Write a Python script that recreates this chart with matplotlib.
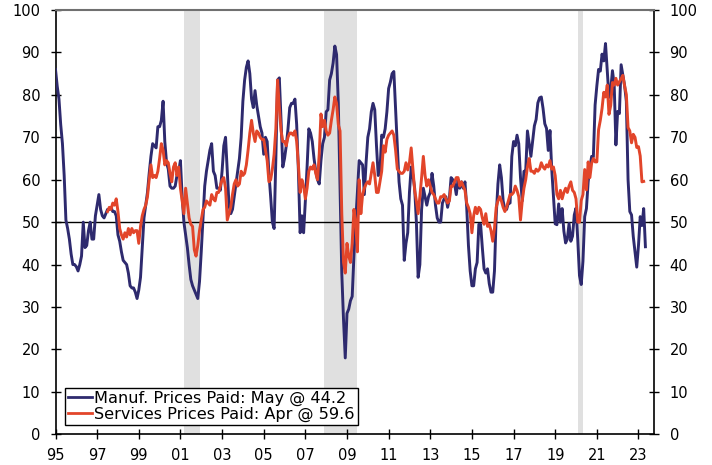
import numpy as np
import pandas as pd
import matplotlib
matplotlib.use("Agg")
import matplotlib.pyplot as plt

# ISM prices paid indices, monthly
manuf_start = '1995-01'
manuf_prices = [
    86, 82, 79, 73, 68.5, 61, 50.5, 48.5, 46, 42.5, 40, 40,            # 1995
    39.5, 38.5, 40, 42, 50, 44, 44.5, 48, 50, 46, 46, 51.5,            # 1996
    54, 56.5, 53, 51.5, 51, 52, 53, 53, 53.5, 52.5, 52.5, 51.5,        # 1997
    47, 45.5, 43, 41, 40.5, 40, 38, 35, 34.5, 34.5, 33.5, 32,          # 1998
    34, 37, 44, 51, 54, 57, 61.5, 65.5, 68.5, 68, 67.5, 72.5,          # 1999
    72.5, 74, 78.5, 69, 64, 62.5, 58.5, 58, 58, 58.5, 61, 62,          # 2000
    64.5, 56, 50, 47, 44, 40, 36.5, 35, 34, 33, 32, 36,                # 2001
    43, 51, 58.5, 62, 64.5, 67, 68.5, 62, 61, 58, 58, 57.5,            # 2002
    62, 68, 70, 62, 54, 52, 53, 56, 59, 62, 65, 70,                    # 2003
    78.5, 83.5, 86.5, 88, 85, 79, 77, 81, 77.5, 75, 72.5, 71,          # 2004
    66, 70, 69, 61.5, 56, 50, 48.5, 65, 83.5, 84, 74, 63,              # 2005
    65, 68, 72, 77, 78, 78, 79, 73, 62, 47.5, 51.5, 47.5,              # 2006
    55, 63, 72, 71, 69, 65, 62, 60, 59, 64.5, 68.5, 70,                # 2007
    76, 76.5, 83.5, 85, 87.5, 91.5, 89.5, 78, 58, 38, 27, 18,          # 2008
    28.5, 29.5, 31.5, 32.5, 42, 50, 57, 64.5, 64, 63.5, 56.5, 64,      # 2009
    70, 72, 76, 78, 76.5, 68, 61, 62, 70.5, 70, 72, 76,                # 2010
    81.5, 83, 85, 85.5, 76.5, 68, 59.5, 55.5, 54, 41, 45, 47.5,        # 2011
    57, 63, 61, 58, 50, 37, 40, 53, 58, 56, 54, 56,                    # 2012
    57, 61.5, 58.5, 54, 51, 50, 50, 54.5, 55.5, 56, 53.5, 55.5,        # 2013
    60.5, 60, 59, 56.5, 60, 58, 59.5, 58, 59.5, 53.5, 44.5, 38.5,      # 2014
    35, 35, 39, 40.5, 49.5, 49.5, 44, 39, 38, 39, 35.5, 33.5,          # 2015
    33.5, 38.5, 51.5, 59, 63.5, 60.5, 55, 53, 53, 54.5, 54.5, 65.5,    # 2016
    69, 68, 70.5, 68.5, 60.5, 55, 62, 62, 71.5, 68.5, 65.5, 69,        # 2017
    72.7, 74.2, 78.1, 79.3, 79.5, 76.8, 73.2, 72.1, 66.9, 71.6, 62.5, 56,  # 2018
    49.6, 49.4, 54.3, 50, 53.2, 47.9, 45.1, 46, 49.7, 45.5, 46.7, 51.7,    # 2019
    53.3, 45.9, 37.4, 35.3, 40.8, 51.3, 53.2, 59.5, 62.8, 65.5, 65.4, 77.6,  # 2020
    82.1, 86, 85.6, 89.6, 88, 92.1, 85.7, 79.4, 81.2, 85.7, 82.4, 68.2,      # 2021
    76.1, 75.6, 87.1, 84.6, 82.2, 78.5, 60, 52.5, 51.7, 46.6, 43, 39.4,      # 2022
    44.5, 51.3, 49.2, 53.2, 44.2,                                            # 2023
]

serv_start = '1997-07'
serv_prices = [
    52.5, 53.5, 53, 54.5, 54, 55.5,                                    # 1997
    52.5, 48.5, 47, 46, 47.5, 46.5, 48.5, 47, 48.5, 47.5, 48, 48,      # 1998
    45, 49, 51.5, 53, 54, 56, 60, 63.5, 60.5, 61, 60.5, 62,            # 1999
    65, 68.5, 67, 63.5, 64.5, 64, 61.5, 59.5, 63, 64, 61, 63,          # 2000
    58, 55, 52, 58, 54.5, 51, 49.5, 49, 43.5, 42, 44.5, 48,            # 2001
    50.5, 53, 53.5, 55, 54.5, 54, 56.5, 55.5, 55, 57, 57, 58.5,        # 2002
    60, 60.5, 58, 50.5, 52, 53.5, 56.5, 59, 60, 58.5, 59, 62,          # 2003
    61, 61.5, 63.5, 67, 71, 74, 71, 69, 71.5, 71, 70, 69.5,            # 2004
    69.5, 67, 64.5, 59.5, 60, 62.5, 66, 72, 83.5, 77, 71.5, 69,        # 2005
    69, 68, 70, 71, 71, 70.5, 71.5, 69, 63.5, 57, 60, 58.5,            # 2006
    55.5, 58, 62, 63, 62.5, 63.5, 61.5, 60, 66, 75.5, 72.5, 74,        # 2007
    71.5, 70.5, 71, 74, 76.5, 79.5, 78, 73, 71.5, 52, 40.5, 38,        # 2008
    45, 42, 40.5, 45, 53, 50, 43, 60, 52, 56.5, 58, 59,                # 2009
    59.5, 59, 61.5, 64, 61, 57, 57, 59.5, 62, 68, 66.5, 69.5,          # 2010
    70.5, 71, 71.5, 70.5, 67, 62.5, 62, 61.5, 61.5, 62, 64, 62.3,      # 2011
    64, 67.5, 62.5, 57.5, 55, 52, 56, 60.5, 65.5, 61, 58.5, 60,        # 2012
    58.5, 57, 56.5, 55.5, 54.5, 54.5, 56, 56, 56.5, 55.5, 54.5, 55,    # 2013
    58.5, 58.5, 59.5, 60.5, 60.5, 58.5, 59.5, 58.5, 57.5, 54.5, 53.5, 52,  # 2014
    47.5, 51.5, 53.5, 52, 53.5, 53, 51, 49.5, 52, 49, 49.5, 48,        # 2015
    45.5, 48.5, 53.5, 55, 56, 55, 53.5, 52.5, 53.5, 55, 56.5, 56.5,    # 2016
    57, 58.5, 57.5, 56, 50.5, 55, 58, 60, 63, 65, 62, 62,              # 2017
    61.5, 62.5, 62, 62.5, 64, 63, 62.5, 63.5, 63, 64.5, 62.5, 63,      # 2018
    61, 56.5, 55.5, 57.5, 55.5, 57, 58, 57, 58.5, 59.5, 57.5, 57,      # 2019
    55.5, 50, 50, 55.1, 56.5, 62.4, 57.6, 64.2, 60.5, 63.9, 65, 64.2,  # 2020
    64.2, 71.8, 74, 76.8, 80.6, 79.5, 82.3, 75.4, 77.5, 82.9, 82.3, 83.9,  # 2021
    82.3, 83.1, 83.8, 84.6, 82.1, 80.1, 72.3, 71.5, 68.7, 70.7, 70, 67.6,  # 2022
    67.8, 65.6, 59.5, 59.6,                                                # 2023
]

# NBER recessions (first month, last month)
recessions = [('2001-03', '2001-11'), ('2007-12', '2009-06'), ('2020-02', '2020-04')]

xtick_years = list(range(1995, 2024, 2))
xtick_labels = [str(y)[2:] for y in xtick_years]
ytick_vals = list(range(0, 101, 10))

labels = ['Manuf. Prices Paid: May @ 44.2', 'Services Prices Paid: Apr @ 59.6']
navy = '#2e2a6e'
red = '#e2452a'


def frac_year(idx):
    return idx.year + (idx.month - 1) / 12.0


manuf_dates = pd.date_range(manuf_start, periods=len(manuf_prices), freq='MS')
serv_dates = pd.date_range(serv_start, periods=len(serv_prices), freq='MS')

plt.rcParams['font.family'] = ['DejaVu Sans']

fig = plt.figure(figsize=(7.12, 4.65), dpi=100)
ax = fig.add_axes([55.5 / 712, 1 - 434.3 / 465, 598.8 / 712, 424.3 / 465])

for start, end in recessions:
    s = pd.Timestamp(start)
    e = pd.Timestamp(end)
    ax.axvspan(s.year + (s.month - 1) / 12, e.year + e.month / 12,
               color='#e0e0e0', lw=0, zorder=0)

ax.axhline(50, color='black', lw=1, zorder=1)

ax.plot(frac_year(manuf_dates), manuf_prices, color=navy, lw=2.1, label=labels[0], zorder=3)
ax.plot(frac_year(serv_dates), serv_prices, color=red, lw=2.1, label=labels[1], zorder=4)

ax.set_xlim(1995, 2023.76)
ax.set_ylim(0, 100)
ax.set_xticks(xtick_years)
ax.set_xticklabels(xtick_labels)
ax.set_yticks(ytick_vals)

ax.tick_params(axis='y', direction='inout', length=7, width=1, labelsize=10.5,
               left=True, right=True, labelleft=True, labelright=True, pad=7.5)
ax.tick_params(axis='x', direction='inout', length=7, width=1, labelsize=10.5, pad=6.5)

for side in ['left', 'right', 'bottom']:
    ax.spines[side].set_color('black')
    ax.spines[side].set_linewidth(1.2)
ax.spines['top'].set_color('#707070')
ax.spines['top'].set_linewidth(1.5)

leg = ax.legend(loc='lower left', bbox_to_anchor=(0.016, 0.022), fontsize=11.6,
                frameon=True, fancybox=False, edgecolor='black', framealpha=1,
                handlelength=1.5, handletextpad=0.1, labelspacing=0.02,
                borderpad=0.2, borderaxespad=0)
leg.get_frame().set_linewidth(1)
for h in leg.get_lines():
    h.set_linewidth(2)

fig.savefig('out.png', dpi=100)
